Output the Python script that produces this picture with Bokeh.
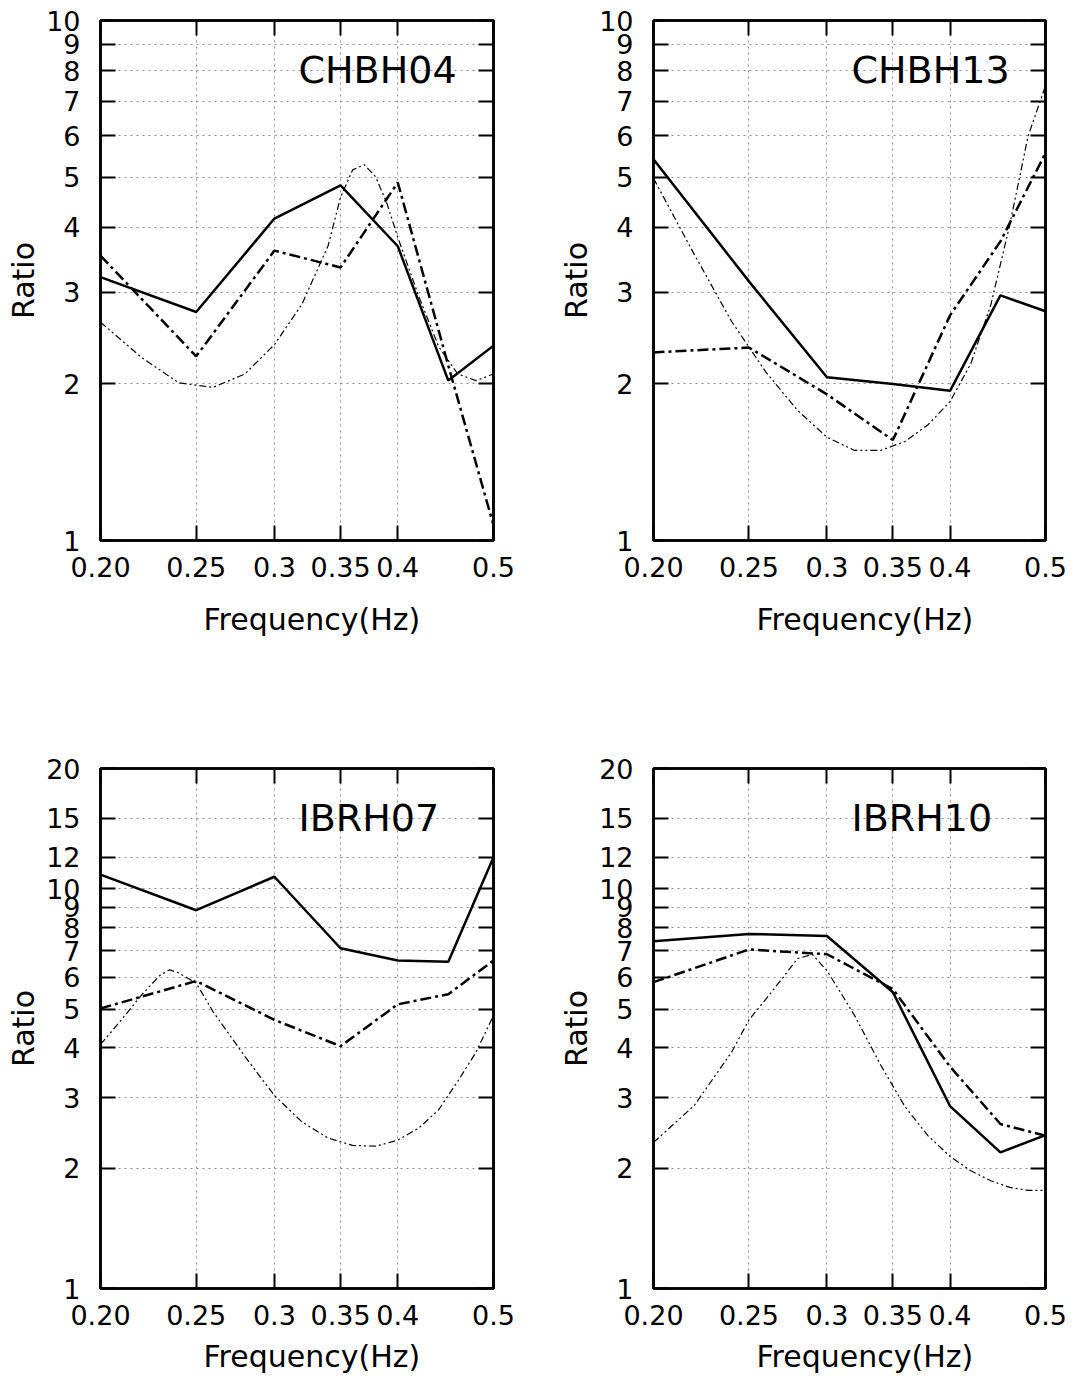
from bokeh.plotting import figure
from bokeh.models import Range1d, FixedTicker, CustomJSTickFormatter, LogAxis, Label, Title
from bokeh.layouts import column, row
from bokeh.embed import file_html
from bokeh.resources import INLINE

# ---------------- data ----------------
freq = [0.20, 0.25, 0.30, 0.35, 0.40, 0.45, 0.50]
x_ticks = [0.20, 0.25, 0.30, 0.35, 0.40, 0.50]
x_tick_labels = ["0.20", "0.25", "0.3", "0.35", "0.4", "0.5"]
y_ticks_top = [1, 2, 3, 4, 5, 6, 7, 8, 9, 10]
y_ticks_bottom = [1, 2, 3, 4, 5, 6, 7, 8, 9, 10, 12, 15, 20]
x_title = "Frequency(Hz)"
y_title = "Ratio"

stations = ["CHBH04", "CHBH13", "IBRH07", "IBRH10"]

chbh04_solid = [3.21, 2.75, 4.16, 4.82, 3.68, 2.03, 2.37]
chbh04_dashdot = [3.53, 2.26, 3.61, 3.35, 4.88, 2.17, 1.07]
chbh04_fit_freq = [0.20, 0.22, 0.24, 0.26, 0.28, 0.30, 0.32, 0.34, 0.35, 0.36, 0.37,
                   0.38, 0.39, 0.40, 0.42, 0.44, 0.46, 0.48, 0.50]
chbh04_fit = [2.63, 2.25, 2.01, 1.97, 2.09, 2.38, 2.85, 3.69, 4.57, 5.16, 5.28,
              5.00, 4.45, 3.83, 2.95, 2.36, 2.09, 2.03, 2.09]

chbh13_solid = [5.41, 3.15, 2.06, 2.00, 1.94, 2.96, 2.76]
chbh13_dashdot = [2.30, 2.35, 1.91, 1.56, 2.71, 3.76, 5.56]
chbh13_fit_freq = [0.20, 0.22, 0.24, 0.26, 0.28, 0.30, 0.32, 0.34, 0.36, 0.38,
                   0.40, 0.42, 0.44, 0.46, 0.48, 0.50]
chbh13_fit = [4.97, 3.55, 2.64, 2.11, 1.78, 1.58, 1.49, 1.49, 1.55, 1.67,
              1.85, 2.19, 2.84, 4.05, 5.99, 7.49]

ibrh07_solid = [10.85, 8.84, 10.72, 7.10, 6.62, 6.57, 12.0]
ibrh07_dashdot = [5.02, 5.88, 4.70, 4.04, 5.14, 5.45, 6.62]
ibrh07_fit_freq = [0.20, 0.21, 0.22, 0.23, 0.235, 0.24, 0.25, 0.26, 0.28, 0.30, 0.32,
                   0.34, 0.36, 0.38, 0.40, 0.42, 0.44, 0.46, 0.48, 0.50]
ibrh07_fit = [4.08, 4.70, 5.42, 6.09, 6.27, 6.16, 5.81, 4.93, 3.81, 3.04, 2.61,
              2.38, 2.28, 2.27, 2.35, 2.52, 2.80, 3.30, 3.90, 4.82]

ibrh10_solid = [7.39, 7.71, 7.62, 5.51, 2.86, 2.19, 2.42]
ibrh10_dashdot = [5.84, 7.05, 6.86, 5.61, 3.59, 2.58, 2.41]
ibrh10_fit_freq = [0.20, 0.22, 0.24, 0.25, 0.26, 0.27, 0.28, 0.29, 0.30, 0.31, 0.32,
                   0.34, 0.36, 0.38, 0.40, 0.42, 0.44, 0.46, 0.48, 0.50]
ibrh10_fit = [2.32, 2.87, 3.90, 4.70, 5.29, 5.95, 6.69, 6.85, 6.24, 5.48, 4.82,
              3.63, 2.85, 2.41, 2.14, 1.97, 1.86, 1.79, 1.76, 1.76]

FONT = "DejaVu Sans"


def label_formatter(vals, labs):
    return CustomJSTickFormatter(
        args=dict(vals=vals, labs=labs),
        code="""
        for (let i = 0; i < vals.length; i++) {
            if (Math.abs(vals[i] - tick) < 1e-6 * Math.max(1, Math.abs(tick))) return labs[i];
        }
        return "";
        """)


def style_axis(ax, ticker, formatter, show_labels):
    ax.ticker = ticker
    ax.formatter = formatter
    ax.major_tick_in = 15
    ax.major_tick_out = 0
    ax.minor_tick_line_color = None
    ax.major_tick_line_color = "black"
    ax.major_tick_line_width = 2
    ax.axis_line_color = "black"
    ax.axis_line_width = 2.5
    ax.major_label_text_font = FONT
    if show_labels:
        ax.major_label_text_color = "black"
        ax.major_label_text_font_size = "27px"
    else:
        ax.major_label_text_color = None
        ax.major_label_text_font_size = "1px"
        ax.major_label_standoff = 0


def make_panel(name, solid, dashdot, fit_f, fit_v, y_ticks, y_max, width, height,
               bl, br, bt, bb, title_standoff):
    p = figure(width=width, height=height, x_axis_type="log", y_axis_type="log",
               x_range=Range1d(0.2, 0.5), y_range=Range1d(1, y_max),
               output_backend="svg", toolbar_location=None,
               min_border_left=bl, min_border_right=br,
               min_border_top=bt, min_border_bottom=bb)
    p.background_fill_color = "white"
    p.border_fill_color = "white"
    p.outline_line_color = "black"
    p.outline_line_width = 2.5

    xa = p.xaxis[0]
    ya = p.yaxis[0]
    style_axis(xa, FixedTicker(ticks=x_ticks), label_formatter(x_ticks, x_tick_labels), True)
    style_axis(ya, FixedTicker(ticks=y_ticks), label_formatter(y_ticks, [str(v) for v in y_ticks]), True)
    xa.major_label_standoff = 16
    ya.major_label_standoff = 20
    ya.axis_label = y_title
    ya.axis_label_standoff = 2
    ya.axis_label_text_font = FONT
    ya.axis_label_text_font_size = "30px"
    ya.axis_label_text_font_style = "normal"
    ya.axis_label_text_color = "black"

    # x-axis title: placed below the axis, shifted right of the frame centre as in the original
    p.add_layout(Title(text=x_title, align="left", offset=103, vertical_align="top",
                       standoff=title_standoff, text_font=FONT, text_font_size="30px",
                       text_font_style="normal", text_color="black"), "below")

    top = LogAxis()
    style_axis(top, FixedTicker(ticks=x_ticks), label_formatter(x_ticks, x_tick_labels), False)
    p.add_layout(top, "above")
    right = LogAxis()
    style_axis(right, FixedTicker(ticks=y_ticks), label_formatter(y_ticks, [str(v) for v in y_ticks]), False)
    p.add_layout(right, "right")

    for g in (p.xgrid[0], p.ygrid[0]):
        g.grid_line_color = "#8a8a8a"
        g.grid_line_dash = "2 4"
        g.grid_line_width = 1

    p.line(fit_f, fit_v, line_color="black", line_width=1.2, line_dash="7 3 2 3 2 3")
    p.line(freq, dashdot, line_color="black", line_width=2.5, line_dash="11 4 3 4")
    p.line(freq, solid, line_color="black", line_width=2.5)

    # station name, positioned relative to the plot frame (screen units)
    p.add_layout(Label(x=198, y=471, x_units="screen", y_units="screen", text=name,
                       text_font=FONT, text_font_size="38px", text_color="black",
                       text_align="left", text_baseline="middle"))
    return p


p1 = make_panel(stations[0], chbh04_solid, chbh04_dashdot, chbh04_fit_freq, chbh04_fit,
                y_ticks_top, 10, 555, 748, 100, 62, 20, 208, 44)
p2 = make_panel(stations[1], chbh13_solid, chbh13_dashdot, chbh13_fit_freq, chbh13_fit,
                y_ticks_top, 10, 525, 748, 98, 35, 20, 208, 44)
p3 = make_panel(stations[2], ibrh07_solid, ibrh07_dashdot, ibrh07_fit_freq, ibrh07_fit,
                y_ticks_bottom, 20, 555, 641, 100, 62, 20, 101, 22)
p4 = make_panel(stations[3], ibrh10_solid, ibrh10_dashdot, ibrh10_fit_freq, ibrh10_fit,
                y_ticks_bottom, 20, 525, 641, 98, 35, 20, 101, 22)

layout = column(row(p1, p2, spacing=0), row(p3, p4, spacing=0), spacing=0)

open("out.html", "w").write(file_html(layout, INLINE))
